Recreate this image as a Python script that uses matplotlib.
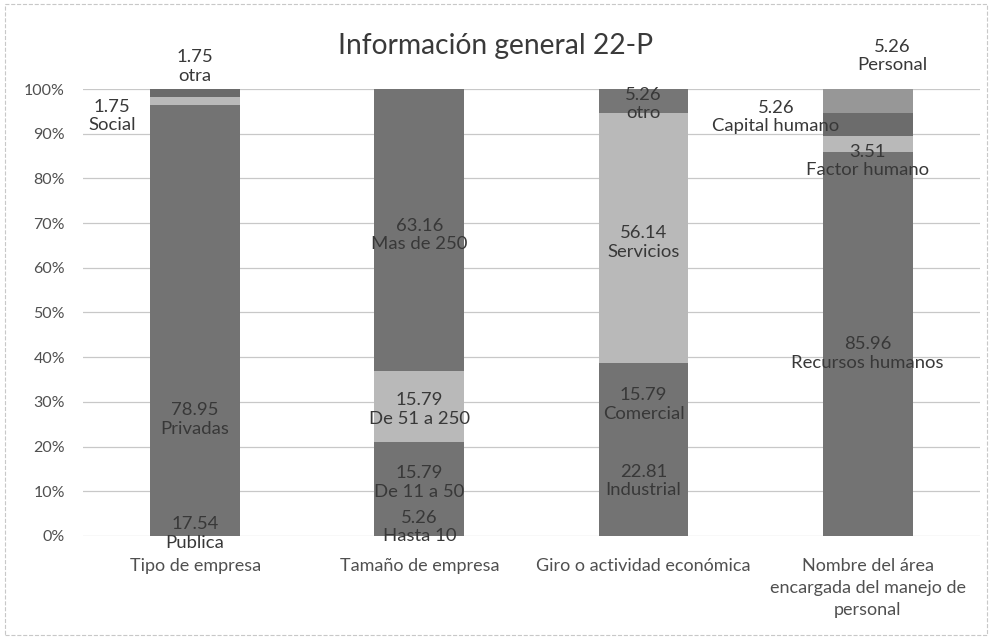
import matplotlib.pyplot as plt
from matplotlib.patches import Rectangle

# categorias (eje x)
categories = ['Tipo de empresa', 'Tamaño de empresa', 'Giro o actividad económica',
              'Nombre del área\nencargada del manejo de\npersonal']

# segmentos de cada barra, de abajo hacia arriba
tipo_names = ['Publica', 'Privadas', 'Social', 'otra']
tipo_vals = [17.54, 78.95, 1.75, 1.75]

tamano_names = ['Hasta 10', 'De 11 a 50', 'De 51 a 250', 'Mas de 250']
tamano_vals = [5.26, 15.79, 15.79, 63.16]

giro_names = ['Industrial', 'Comercial', 'Servicios', 'otro']
giro_vals = [22.81, 15.79, 56.14, 5.26]

area_names = ['Recursos humanos', 'Factor humano', 'Capital humano', 'Personal']
area_vals = [85.96, 3.51, 5.26, 5.26]

yticks = list(range(0, 101, 10))

names = [tipo_names, tamano_names, giro_names, area_names]
values = [tipo_vals, tamano_vals, giro_vals, area_vals]

# estilo: tonos de gris por segmento
dark = '#737373'
light = '#b9b9b9'
seg_colors = [
    [dark, dark, light, '#6a6a6a'],
    [dark, dark, light, dark],
    [dark, dark, light, '#767676'],
    [dark, light, '#6c6c6c', '#979797'],
]
# posiciones de las etiquetas (desplazamiento x, y en %), movidas a mano en el original
label_pos = [
    [(0, 0.5), (0, 26.0), (-0.37, 94.0), (0, 105.0)],
    [(0, 2.0), (0, 11.9), (0, 28.3), (0, 67.3)],
    [(0, 12.3), (0, 29.4), (0, 65.7), (0, 96.6)],
    [(0, 40.8), (0, 83.9), (-0.41, 93.7), (0.11, 107.4)],
]

plt.rcParams['font.family'] = ['Lato', 'DejaVu Sans']

fig = plt.figure(figsize=(9.92, 6.38), dpi=100)
ax = fig.add_axes([0.0837, 0.1599, 0.904, 0.7006])

for i, vals in enumerate(values):
    bottom = 0
    for j, v in enumerate(vals):
        ax.bar(i, v, bottom=bottom, width=0.4, color=seg_colors[i][j], zorder=2)
        bottom += v
    for j, v in enumerate(vals):
        dx, y = label_pos[i][j]
        ax.text(i + dx, y, f'{v:.2f}\n{names[i][j]}', ha='center', va='center',
                fontsize=13.3, color='#383838', linespacing=1.2, clip_on=False, zorder=3)

ax.set_xlim(-0.5, 3.5)
ax.set_ylim(0, 100)
ax.set_yticks(yticks)
ax.set_yticklabels([f'{t}%' for t in yticks])
ax.set_xticks(range(len(categories)))
ax.set_xticklabels(categories, linespacing=1.45)
ax.tick_params(axis='both', length=0, labelcolor='#505050')
ax.tick_params(axis='x', pad=16, labelsize=13)
ax.tick_params(axis='y', pad=13, labelsize=11.5)
ax.grid(axis='y', color='#c8c8c8', linewidth=0.9, zorder=0)
for s in ax.spines.values():
    s.set_visible(False)

fig.text(0.5, 0.928, 'Información general 22-P', ha='center', va='center',
         fontsize=20.3, color='#3a3a3a')

fig.patches.append(Rectangle((0.005, 0.005), 0.99, 0.988, transform=fig.transFigure,
                             fill=False, edgecolor='#c8c8c8', linewidth=0.8, linestyle='--'))

fig.savefig('out.png', dpi=100)
